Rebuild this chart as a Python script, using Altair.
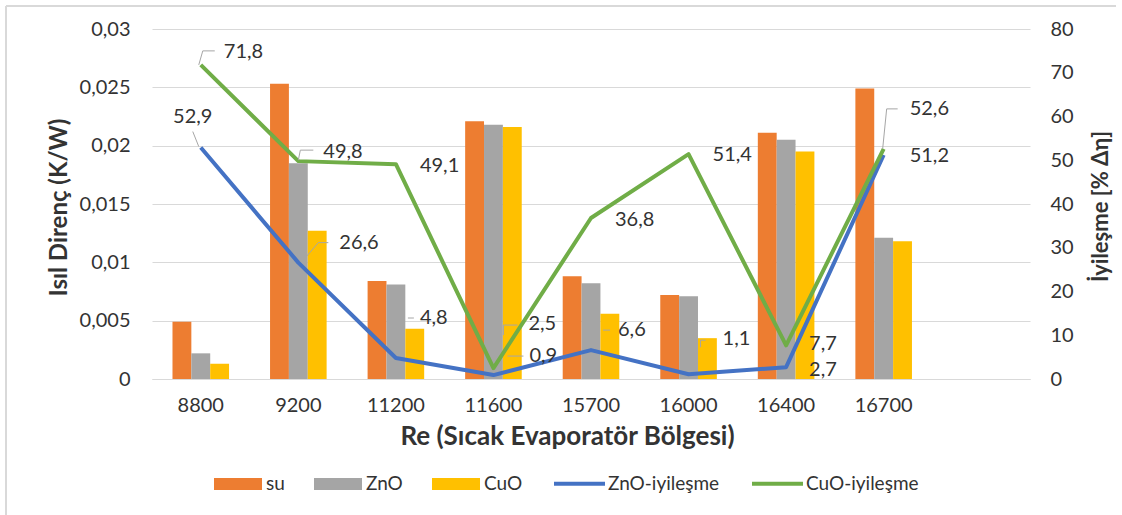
import altair as alt
import pandas as pd

# ---------------- data ----------------
categories = ["8800", "9200", "11200", "11600", "15700", "16000", "16400", "16700"]
x_domain = categories + [" "]  # Excel leaves one empty slot on the right

su = [0.0049, 0.0253, 0.0084, 0.0221, 0.0088, 0.0072, 0.0211, 0.0249]
zno = [0.0022, 0.0185, 0.0081, 0.0218, 0.0082, 0.0071, 0.0205, 0.0121]
cuo = [0.0013, 0.0127, 0.0043, 0.0216, 0.0056, 0.0035, 0.0195, 0.0118]

zno_imp = [52.9, 26.6, 4.8, 0.9, 6.6, 1.1, 2.7, 51.2]
cuo_imp = [71.8, 49.8, 49.1, 2.5, 36.8, 51.4, 7.7, 52.6]

bar_series = ["su", "ZnO", "CuO"]
line_series = ["ZnO-iyileşme", "CuO-iyileşme"]
bar_colors = ["#ED7D31", "#A5A5A5", "#FFC000"]
line_colors = ["#4472C4", "#70AD47"]

left_ticks = [0, 0.005, 0.01, 0.015, 0.02, 0.025, 0.03]
right_ticks = [0, 10, 20, 30, 40, 50, 60, 70, 80]

# label offsets (style: dx, dy in px, relative to the point) for each data label
zno_label_off = [(-8, -31, "center"), (41, -20, "left"), (24, -40, "left"), (36, -19, "left"),
                 (27, -20, "left"), (34, -35, "left"), (23, 3, "left"), (26, 1, "left")]
cuo_label_off = [(23, -13, "left"), (25, -9, "left"), (24, 2, "left"), (35, -44, "left"),
                 (24, 2, "left"), (24, 1, "left"), (23, -1, "left"), (26, -40, "left")]

# leader-line segments (style: offsets in px relative to the point)
leaders = {
    ("CuO-iyileşme", "8800"): [(-2, 0, 2, -14), (2, -14, 14, -14)],
    ("ZnO-iyileşme", "8800"): [(-8, -16, -2, -1)],
    ("CuO-iyileşme", "9200"): [(0, -1, 2, -11), (2, -11, 15, -11)],
    ("ZnO-iyileşme", "9200"): [(8, -6, 20, -20), (20, -20, 30, -20)],
    ("ZnO-iyileşme", "11200"): [(12, -40, 18, -40)],
    ("CuO-iyileşme", "11600"): [(10, -33, 10, -43), (10, -43, 24, -43)],
    ("ZnO-iyileşme", "11600"): [(14, -19, 30, -19)],
    ("ZnO-iyileşme", "15700"): [(12, -20, 19, -20)],
    ("ZnO-iyileşme", "16000"): [(12, -27, 12, -34), (12, -34, 17, -34)],
    ("CuO-iyileşme", "16700"): [(-1, 0, 3, -40), (3, -40, 14, -40)],
}

# ---------------- tables ----------------
bar_rows = []
for name, vals in zip(bar_series, [su, zno, cuo]):
    for c, v in zip(categories, vals):
        bar_rows.append({"Re": c, "seri": name, "R": v})
bar_df = pd.DataFrame(bar_rows)

line_rows = []
for name, vals in zip(line_series, [zno_imp, cuo_imp]):
    for c, v in zip(categories, vals):
        line_rows.append({"Re": c, "seri": name, "v": v, "lbl": f"{v:.1f}".replace(".", ",")})
line_df = pd.DataFrame(line_rows)

FONT = "Lato"
TXT = "#333333"
W, H = 878, 350
LEFT, TOP = 152, 29

x_scale = alt.Scale(domain=x_domain, paddingInner=0.42, paddingOuter=0.21)
x_axis = alt.Axis(
    title="Re (Sıcak Evaporatör Bölgesi)", labelAngle=0, ticks=False, tickSize=0,
    labelPadding=16, labelFontSize=20, labelFont=FONT, labelColor=TXT,
    domainColor="#D9D9D9", domainWidth=1, grid=False,
    titleFont=FONT, titleFontSize=26, titleFontWeight="bold", titleColor=TXT,
    titleX=415, titleY=57, titleBaseline="middle", titleAlign="center",
)
X = alt.X("Re:N", scale=x_scale, axis=x_axis, sort=x_domain)

left_axis = alt.Axis(
    title="Isıl Direnç (K/W)", values=left_ticks,
    labelExpr="replace(format(datum.value, '.3~f'), '.', ',')",
    grid=True, gridColor="#D9D9D9", gridWidth=1, domain=False, ticks=False, tickSize=0,
    labelPadding=22, labelFontSize=20, labelFont=FONT, labelColor=TXT,
    titleFont=FONT, titleFontSize=24, titleFontWeight="bold", titleColor=TXT,
    titleX=-93, titleY=178, titleAngle=270, titleAlign="center", titleBaseline="middle",
)
right_axis = alt.Axis(
    title="İyileşme [% Δη]", orient="right", values=right_ticks,
    grid=False, domain=False, ticks=False, tickSize=0,
    labelPadding=20, labelFontSize=20, labelFont=FONT, labelColor=TXT,
    titleFont=FONT, titleFontSize=22, titleFontWeight="bold", titleColor=TXT,
    titleX=70, titleY=177, titleAngle=270, titleAlign="center", titleBaseline="middle",
)
right_scale = alt.Scale(domain=[0, 80])

fill_legend = alt.Legend(
    title=None, orient="none", direction="horizontal", legendX=62, legendY=431,
    symbolType="M-1,-0.25H1V0.25H-1Z", symbolSize=2304, symbolStrokeWidth=0,
    labelFont=FONT, labelFontSize=19, labelColor=TXT, labelOffset=4,
    columnPadding=29, padding=0,
)
stroke_legend = alt.Legend(
    title=None, orient="none", direction="horizontal", legendX=400, legendY=427,
    symbolType="stroke", symbolSize=2601, symbolStrokeWidth=4,
    labelFont=FONT, labelFontSize=19, labelColor=TXT, labelOffset=1,
    columnPadding=24, padding=0,
)

bars = alt.Chart(bar_df).mark_bar().encode(
    x=X,
    xOffset=alt.XOffset("seri:N", sort=bar_series,
                        scale=alt.Scale(domain=bar_series, paddingInner=0, paddingOuter=0)),
    y=alt.Y("R:Q", scale=alt.Scale(domain=[0, 0.03]), axis=left_axis),
    fill=alt.Fill("seri:N", scale=alt.Scale(domain=bar_series, range=bar_colors),
                  legend=fill_legend, sort=bar_series),
)

stroke_enc = alt.Stroke("seri:N", scale=alt.Scale(domain=line_series, range=line_colors),
                        legend=stroke_legend, sort=line_series)
Yr = alt.Y("v:Q", scale=right_scale, axis=right_axis)

line_layers = []
for name in line_series:
    line_layers.append(
        alt.Chart(line_df).transform_filter(alt.datum.seri == name)
        .mark_line(strokeWidth=4, strokeJoin="round")
        .encode(x=X, y=Yr, stroke=stroke_enc)
    )

leader_layers = []
for (name, c), segs in leaders.items():
    for (x1, y1, x2, y2) in segs:
        leader_layers.append(
            alt.Chart(line_df)
            .transform_filter((alt.datum.seri == name) & (alt.datum.Re == c))
            .mark_rule(color="#A6A6A6", strokeWidth=1,
                       xOffset=x1, yOffset=y1, x2Offset=x2, y2Offset=y2)
            .encode(x=X, y=Yr, x2=alt.X2("Re:N"), y2=alt.Y2("v:Q"))
        )

text_layers = []
for name, offs in zip(line_series, [zno_label_off, cuo_label_off]):
    for c, (dx, dy, al) in zip(categories, offs):
        text_layers.append(
            alt.Chart(line_df)
            .transform_filter((alt.datum.seri == name) & (alt.datum.Re == c))
            .mark_text(dx=dx, dy=dy, align=al, baseline="middle",
                       font=FONT, fontSize=20, color=TXT)
            .encode(x=X, y=Yr, text="lbl:N")
        )

right_layer = alt.layer(*line_layers, *leader_layers, *text_layers)

frame = alt.Chart(pd.DataFrame({"k": [0]})).mark_rule(color="#D9D9D9", strokeWidth=2).encode(
    x=alt.value(6 - LEFT), x2=alt.value(1116 - LEFT), y=alt.value(6 - TOP), y2=alt.value(6 - TOP)
)
frame2 = alt.Chart(pd.DataFrame({"k": [0]})).mark_rule(color="#D9D9D9", strokeWidth=2).encode(
    x=alt.value(6 - LEFT), x2=alt.value(6 - LEFT), y=alt.value(6 - TOP), y2=alt.value(515 - TOP)
)

chart = (
    alt.layer(bars, right_layer, frame, frame2)
    .resolve_scale(y="independent", fill="independent", stroke="independent")
    .properties(
        width=W, height=H,
        autosize=alt.AutoSizeParams(type="none"),
        padding={"left": LEFT, "top": TOP, "right": 1122 - LEFT - W, "bottom": 515 - TOP - H},
        background="white",
    )
    .configure_view(stroke=None)
)

chart.save("out.html", embed_options={"renderer": "svg", "actions": False})
